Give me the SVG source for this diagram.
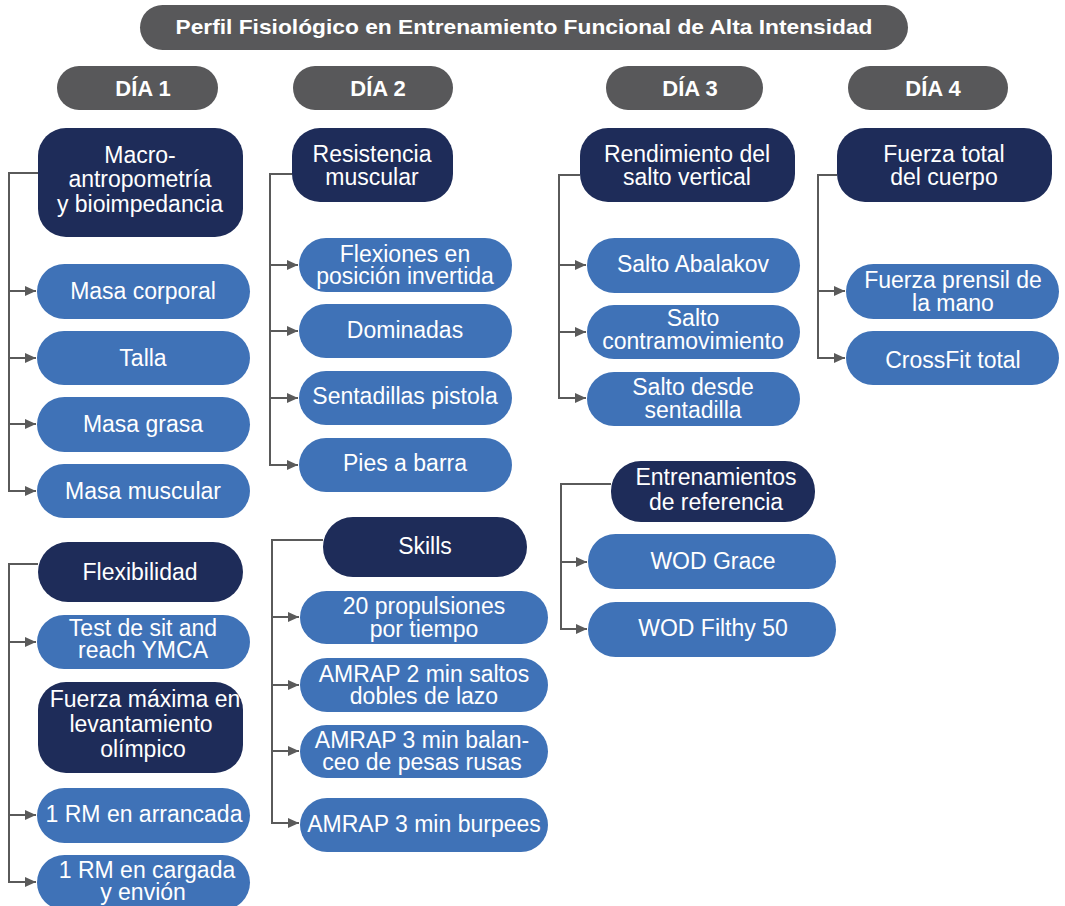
<svg xmlns="http://www.w3.org/2000/svg" width="1065" height="906" viewBox="0 0 1065 906">
<style>
.hdr{fill:#58585A}
.dk{fill:#1E2C59}
.lt{fill:#3F72B7}
.t{font-family:"Liberation Sans",Arial,sans-serif;font-size:23px;fill:#fff;text-anchor:middle}
.tb{font-family:"Liberation Sans",Arial,sans-serif;font-size:21px;font-weight:bold;fill:#fff;text-anchor:middle}
.td{font-family:"Liberation Sans",Arial,sans-serif;font-size:22px;font-weight:bold;fill:#fff;text-anchor:middle}
.c{fill:none;stroke:#5A5A5A;stroke-width:2}
</style>
<defs>
<marker id="ah" markerUnits="userSpaceOnUse" markerWidth="12" markerHeight="11" refX="11" refY="5.5" orient="auto">
<path d="M0,0.5 L11,5.5 L0,10.5 z" fill="#5A5A5A"/>
</marker>
</defs>
<rect width="1065" height="906" fill="#fff"/>
<g id="connectors">
<path class="c" d="M38,173 H9 V491 H36" marker-end="url(#ah)"/>
<path class="c" d="M9,291 H36" marker-end="url(#ah)"/>
<path class="c" d="M9,358 H36" marker-end="url(#ah)"/>
<path class="c" d="M9,424 H36" marker-end="url(#ah)"/>
<path class="c" d="M38,564 H9 V882 H36" marker-end="url(#ah)"/>
<path class="c" d="M9,642 H36" marker-end="url(#ah)"/>
<path class="c" d="M9,815 H36" marker-end="url(#ah)"/>
<path class="c" d="M292,174 H270 V465 H298" marker-end="url(#ah)"/>
<path class="c" d="M270,265 H298" marker-end="url(#ah)"/>
<path class="c" d="M270,331 H298" marker-end="url(#ah)"/>
<path class="c" d="M270,398 H298" marker-end="url(#ah)"/>
<path class="c" d="M323,540 H272 V823 H299" marker-end="url(#ah)"/>
<path class="c" d="M272,617 H299" marker-end="url(#ah)"/>
<path class="c" d="M272,685 H299" marker-end="url(#ah)"/>
<path class="c" d="M272,751 H299" marker-end="url(#ah)"/>
<path class="c" d="M580,175 H559 V398 H586" marker-end="url(#ah)"/>
<path class="c" d="M559,265 H586" marker-end="url(#ah)"/>
<path class="c" d="M559,332 H586" marker-end="url(#ah)"/>
<path class="c" d="M611,484 H561 V629 H587" marker-end="url(#ah)"/>
<path class="c" d="M561,562 H587" marker-end="url(#ah)"/>
<path class="c" d="M837,175 H818 V358 H845" marker-end="url(#ah)"/>
<path class="c" d="M818,291 H845" marker-end="url(#ah)"/>
</g>
<g id="title"><rect class="hdr" x="140" y="5" width="768" height="45" rx="22.5"/><text class="tb" x="524" y="34" textLength="697" lengthAdjust="spacingAndGlyphs">Perfil Fisiológico en Entrenamiento Funcional de Alta Intensidad</text></g>
<g id="dia1"><rect class="hdr" x="57" y="66" width="161" height="44" rx="22"/><text class="td" x="143" y="96">DÍA 1</text></g>
<g id="dia2"><rect class="hdr" x="293" y="66" width="160" height="44" rx="22"/><text class="td" x="378" y="96">DÍA 2</text></g>
<g id="dia3"><rect class="hdr" x="606" y="66" width="157" height="44" rx="22"/><text class="td" x="690" y="96">DÍA 3</text></g>
<g id="dia4"><rect class="hdr" x="848" y="66" width="160" height="44" rx="22"/><text class="td" x="933" y="96">DÍA 4</text></g>

<g id="macro"><rect class="dk" x="38" y="128" width="205" height="109" rx="28"/><text class="t" x="140"><tspan x="140" y="163">Macro-</tspan><tspan x="140" y="187">antropometría</tspan><tspan x="140" y="212">y bioimpedancia</tspan></text></g>
<g id="masa-corporal"><rect class="lt" x="37" y="264" width="213" height="55" rx="27.5"/><text class="t" x="143" y="299">Masa corporal</text></g>
<g id="talla"><rect class="lt" x="37" y="331" width="213" height="54" rx="27"/><text class="t" x="143" y="366">Talla</text></g>
<g id="masa-grasa"><rect class="lt" x="37" y="397" width="213" height="55" rx="27.5"/><text class="t" x="143" y="432">Masa grasa</text></g>
<g id="masa-muscular"><rect class="lt" x="37" y="464" width="213" height="54" rx="27"/><text class="t" x="143" y="499">Masa muscular</text></g>

<g id="flexibilidad"><rect class="dk" x="38" y="542" width="205" height="60" rx="30"/><text class="t" x="140" y="580">Flexibilidad</text></g>
<g id="sit-reach"><rect class="lt" x="37" y="615" width="213" height="54" rx="27"/><text class="t"><tspan x="143" y="636">Test de sit and</tspan><tspan x="143" y="658">reach YMCA</tspan></text></g>
<g id="fuerza-maxima"><rect class="dk" x="38" y="682" width="205" height="91" rx="28"/><text class="t"><tspan x="145" y="707">Fuerza máxima en</tspan><tspan x="141" y="732">levantamiento</tspan><tspan x="143" y="757">olímpico</tspan></text></g>
<g id="rm-arrancada"><rect class="lt" x="37" y="788" width="213" height="55" rx="27.5"/><text class="t" x="144" y="822">1 RM en arrancada</text></g>
<g id="rm-cargada"><rect class="lt" x="37" y="855" width="213" height="55" rx="27.5"/><text class="t"><tspan x="147" y="878">1 RM en cargada</tspan><tspan x="143" y="900">y envión</tspan></text></g>

<g id="resistencia"><rect class="dk" x="292" y="128" width="161" height="74" rx="28"/><text class="t"><tspan x="372" y="162">Resistencia</tspan><tspan x="372" y="185">muscular</tspan></text></g>
<g id="flexiones"><rect class="lt" x="299" y="238" width="213" height="54" rx="27"/><text class="t"><tspan x="405" y="262">Flexiones en</tspan><tspan x="405" y="284">posición invertida</tspan></text></g>
<g id="dominadas"><rect class="lt" x="299" y="304" width="213" height="54" rx="27"/><text class="t" x="405" y="338">Dominadas</text></g>
<g id="sentadillas"><rect class="lt" x="299" y="371" width="213" height="54" rx="27"/><text class="t" x="405" y="404">Sentadillas pistola</text></g>
<g id="pies-barra"><rect class="lt" x="299" y="438" width="213" height="54" rx="27"/><text class="t" x="405" y="471">Pies a barra</text></g>

<g id="skills"><rect class="dk" x="323" y="517" width="204" height="60" rx="30"/><text class="t" x="425" y="554">Skills</text></g>
<g id="propulsiones"><rect class="lt" x="300" y="591" width="248" height="53" rx="26.5"/><text class="t"><tspan x="424" y="614">20 propulsiones</tspan><tspan x="424" y="637">por tiempo</tspan></text></g>
<g id="amrap2"><rect class="lt" x="300" y="658" width="248" height="54" rx="27"/><text class="t"><tspan x="424" y="682">AMRAP 2 min saltos</tspan><tspan x="424" y="704">dobles de lazo</tspan></text></g>
<g id="amrap3-pesas"><rect class="lt" x="300" y="725" width="248" height="53" rx="26.5"/><text class="t"><tspan x="422" y="748">AMRAP 3 min balan-</tspan><tspan x="422" y="770">ceo de pesas rusas</tspan></text></g>
<g id="amrap3-burpees"><rect class="lt" x="300" y="798" width="248" height="54" rx="27"/><text class="t" x="424" y="832">AMRAP 3 min burpees</text></g>

<g id="rendimiento"><rect class="dk" x="580" y="128" width="215" height="74" rx="28"/><text class="t"><tspan x="687" y="162">Rendimiento del</tspan><tspan x="687" y="185">salto vertical</tspan></text></g>
<g id="abalakov"><rect class="lt" x="587" y="238" width="213" height="55" rx="27.5"/><text class="t" x="693" y="272">Salto Abalakov</text></g>
<g id="contramovimiento"><rect class="lt" x="587" y="305" width="213" height="54" rx="27"/><text class="t"><tspan x="693" y="326">Salto</tspan><tspan x="693" y="349">contramovimiento</tspan></text></g>
<g id="salto-sentadilla"><rect class="lt" x="587" y="372" width="213" height="54" rx="27"/><text class="t"><tspan x="693" y="395">Salto desde</tspan><tspan x="693" y="418">sentadilla</tspan></text></g>

<g id="entrenamientos"><rect class="dk" x="611" y="461" width="204" height="61" rx="30"/><text class="t"><tspan x="716" y="485">Entrenamientos</tspan><tspan x="716" y="510">de referencia</tspan></text></g>
<g id="wod-grace"><rect class="lt" x="588" y="534" width="248" height="55" rx="27.5"/><text class="t" x="713" y="569">WOD Grace</text></g>
<g id="wod-filthy"><rect class="lt" x="588" y="602" width="248" height="55" rx="27.5"/><text class="t" x="713" y="636">WOD Filthy 50</text></g>

<g id="fuerza-total"><rect class="dk" x="837" y="128" width="215" height="74" rx="28"/><text class="t"><tspan x="944" y="162">Fuerza total</tspan><tspan x="944" y="185">del cuerpo</tspan></text></g>
<g id="prensil"><rect class="lt" x="846" y="264" width="213" height="55" rx="27.5"/><text class="t"><tspan x="953" y="288">Fuerza prensil de</tspan><tspan x="953" y="311">la mano</tspan></text></g>
<g id="crossfit-total"><rect class="lt" x="846" y="331" width="213" height="54" rx="27"/><text class="t" x="953" y="368">CrossFit total</text></g>
</svg>
